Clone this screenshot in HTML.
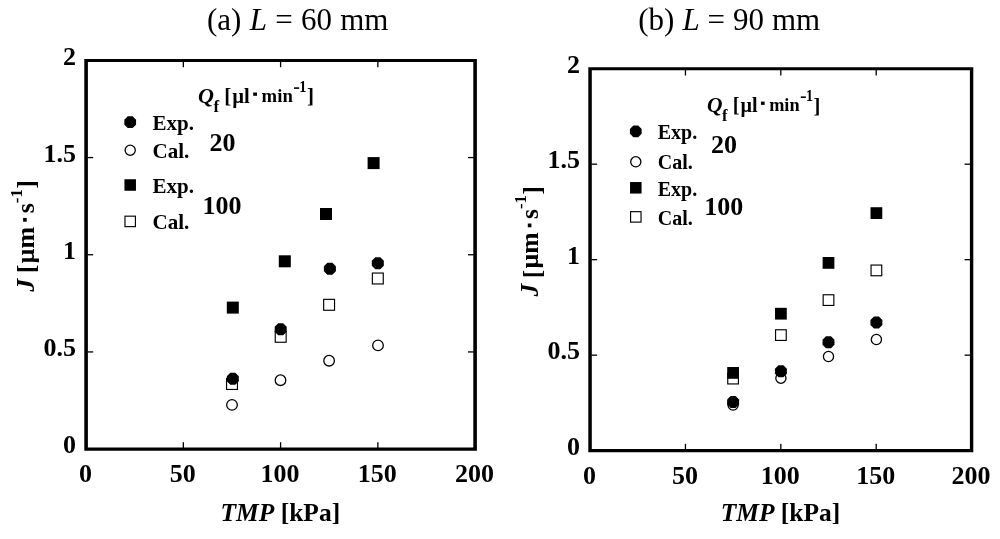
<!DOCTYPE html>
<html><head><meta charset="utf-8"><title>Permeate flux vs TMP</title>
<style>
html,body{margin:0;padding:0;background:#fff;}
body{width:1000px;height:539px;overflow:hidden;}
svg{display:block;will-change:transform;}
text{font-family:"Liberation Serif",serif;fill:#000;}
.tk{font-size:26px;font-weight:bold;}
.ax{font-size:25.5px;font-weight:bold;}
.lg{font-size:21px;font-weight:bold;}
.tt{font-size:31px;}
</style></head>
<body>
<svg width="1000" height="539" viewBox="0 0 1000 539">
<rect width="1000" height="539" fill="#fff"/>
<path fill="#000" fill-rule="evenodd" d="M84.3 58.9H476.9V450.7H84.3Z M87.9 61.9H473.3V447.5H87.9Z"/>
<rect x="182.70" y="442.20" width="1.3" height="5.8" fill="#000"/>
<rect x="182.70" y="61.40" width="1.3" height="5.8" fill="#000"/>
<rect y="351.28" x="87.40" height="1.3" width="5.8" fill="#000"/>
<rect y="351.28" x="468.00" height="1.3" width="5.8" fill="#000"/>
<rect x="279.95" y="442.20" width="1.3" height="5.8" fill="#000"/>
<rect x="279.95" y="61.40" width="1.3" height="5.8" fill="#000"/>
<rect y="254.10" x="87.40" height="1.3" width="5.8" fill="#000"/>
<rect y="254.10" x="468.00" height="1.3" width="5.8" fill="#000"/>
<rect x="377.20" y="442.20" width="1.3" height="5.8" fill="#000"/>
<rect x="377.20" y="61.40" width="1.3" height="5.8" fill="#000"/>
<rect y="156.92" x="87.40" height="1.3" width="5.8" fill="#000"/>
<rect y="156.92" x="468.00" height="1.3" width="5.8" fill="#000"/>
<text class="tk" x="85.60" y="482.40" text-anchor="middle">0</text>
<text class="tk" x="182.85" y="482.40" text-anchor="middle">50</text>
<text class="tk" x="280.10" y="482.40" text-anchor="middle">100</text>
<text class="tk" x="377.35" y="482.40" text-anchor="middle">150</text>
<text class="tk" x="474.60" y="482.40" text-anchor="middle">200</text>
<text class="tk" x="76.10" y="453.30" text-anchor="end">0</text>
<text class="tk" x="76.10" y="356.12" text-anchor="end">0.5</text>
<text class="tk" x="76.10" y="258.95" text-anchor="end">1</text>
<text class="tk" x="76.10" y="161.77" text-anchor="end">1.5</text>
<text class="tk" x="76.10" y="64.60" text-anchor="end">2</text>
<path fill="#000" fill-rule="evenodd" d="M588.3 67.2H973.3V452.2H588.3Z M591.8 70.2H969.9V449.1H591.8Z"/>
<rect x="684.79" y="443.80" width="1.3" height="5.8" fill="#000"/>
<rect x="684.79" y="69.70" width="1.3" height="5.8" fill="#000"/>
<rect y="354.51" x="591.30" height="1.3" width="5.8" fill="#000"/>
<rect y="354.51" x="964.60" height="1.3" width="5.8" fill="#000"/>
<rect x="780.17" y="443.80" width="1.3" height="5.8" fill="#000"/>
<rect x="780.17" y="69.70" width="1.3" height="5.8" fill="#000"/>
<rect y="259.02" x="591.30" height="1.3" width="5.8" fill="#000"/>
<rect y="259.02" x="964.60" height="1.3" width="5.8" fill="#000"/>
<rect x="875.56" y="443.80" width="1.3" height="5.8" fill="#000"/>
<rect x="875.56" y="69.70" width="1.3" height="5.8" fill="#000"/>
<rect y="163.54" x="591.30" height="1.3" width="5.8" fill="#000"/>
<rect y="163.54" x="964.60" height="1.3" width="5.8" fill="#000"/>
<text class="tk" x="589.55" y="483.90" text-anchor="middle">0</text>
<text class="tk" x="684.94" y="483.90" text-anchor="middle">50</text>
<text class="tk" x="780.32" y="483.90" text-anchor="middle">100</text>
<text class="tk" x="875.71" y="483.90" text-anchor="middle">150</text>
<text class="tk" x="971.10" y="483.90" text-anchor="middle">200</text>
<text class="tk" x="580.10" y="454.85" text-anchor="end">0</text>
<text class="tk" x="580.10" y="359.36" text-anchor="end">0.5</text>
<text class="tk" x="580.10" y="263.87" text-anchor="end">1</text>
<text class="tk" x="580.10" y="168.39" text-anchor="end">1.5</text>
<text class="tk" x="580.10" y="72.90" text-anchor="end">2</text>
<rect x="226.55" y="378.55" width="10.90" height="10.90" fill="#fff" stroke="#000" stroke-width="1.15"/>
<rect x="275.25" y="331.35" width="10.90" height="10.90" fill="#fff" stroke="#000" stroke-width="1.15"/>
<rect x="323.65" y="299.35" width="10.90" height="10.90" fill="#fff" stroke="#000" stroke-width="1.15"/>
<rect x="372.35" y="273.05" width="10.90" height="10.90" fill="#fff" stroke="#000" stroke-width="1.15"/>
<rect x="727.76" y="373.26" width="10.68" height="10.68" fill="#fff" stroke="#000" stroke-width="1.15"/>
<rect x="775.56" y="329.76" width="10.68" height="10.68" fill="#fff" stroke="#000" stroke-width="1.15"/>
<rect x="823.16" y="294.76" width="10.68" height="10.68" fill="#fff" stroke="#000" stroke-width="1.15"/>
<rect x="871.06" y="265.06" width="10.68" height="10.68" fill="#fff" stroke="#000" stroke-width="1.15"/>
<circle cx="232.0" cy="404.9" r="5.30" fill="#fff" stroke="#000" stroke-width="1.3"/>
<circle cx="280.5" cy="380.2" r="5.30" fill="#fff" stroke="#000" stroke-width="1.3"/>
<circle cx="329.1" cy="360.7" r="5.30" fill="#fff" stroke="#000" stroke-width="1.3"/>
<circle cx="378.0" cy="345.4" r="5.30" fill="#fff" stroke="#000" stroke-width="1.3"/>
<circle cx="733.1" cy="405.0" r="5.09" fill="#fff" stroke="#000" stroke-width="1.3"/>
<circle cx="780.9" cy="378.2" r="5.09" fill="#fff" stroke="#000" stroke-width="1.3"/>
<circle cx="828.5" cy="356.5" r="5.09" fill="#fff" stroke="#000" stroke-width="1.3"/>
<circle cx="876.4" cy="339.5" r="5.09" fill="#fff" stroke="#000" stroke-width="1.3"/>
<rect x="226.80" y="301.60" width="12.00" height="12.00" fill="#000"/>
<rect x="278.80" y="255.30" width="12.00" height="12.00" fill="#000"/>
<rect x="320.00" y="208.00" width="12.00" height="12.00" fill="#000"/>
<rect x="367.60" y="157.10" width="12.00" height="12.00" fill="#000"/>
<rect x="727.22" y="367.02" width="11.76" height="11.76" fill="#000"/>
<rect x="775.02" y="307.82" width="11.76" height="11.76" fill="#000"/>
<rect x="822.62" y="257.02" width="11.76" height="11.76" fill="#000"/>
<rect x="870.52" y="207.22" width="11.76" height="11.76" fill="#000"/>
<polygon points="230.31,372.79 235.29,372.79 238.81,376.31 238.81,381.29 235.29,384.81 230.31,384.81 226.79,381.29 226.79,376.31" fill="#000"/>
<polygon points="278.21,323.19 283.19,323.19 286.71,326.71 286.71,331.69 283.19,335.21 278.21,335.21 274.69,331.69 274.69,326.71" fill="#000"/>
<polygon points="327.41,262.79 332.39,262.79 335.91,266.31 335.91,271.29 332.39,274.81 327.41,274.81 323.89,271.29 323.89,266.31" fill="#000"/>
<polygon points="375.31,257.29 380.29,257.29 383.81,260.81 383.81,265.79 380.29,269.31 375.31,269.31 371.79,265.79 371.79,260.81" fill="#000"/>
<polygon points="730.62,396.12 735.58,396.12 739.08,399.62 739.08,404.58 735.58,408.08 730.62,408.08 727.12,404.58 727.12,399.62" fill="#000"/>
<polygon points="778.42,365.22 783.38,365.22 786.88,368.72 786.88,373.68 783.38,377.18 778.42,377.18 774.92,373.68 774.92,368.72" fill="#000"/>
<polygon points="826.02,336.32 830.98,336.32 834.48,339.82 834.48,344.78 830.98,348.28 826.02,348.28 822.52,344.78 822.52,339.82" fill="#000"/>
<polygon points="873.92,316.52 878.88,316.52 882.38,320.02 882.38,324.98 878.88,328.48 873.92,328.48 870.42,324.98 870.42,320.02" fill="#000"/>
<polygon points="127.77,116.34 132.63,116.34 136.06,119.77 136.06,124.63 132.63,128.06 127.77,128.06 124.34,124.63 124.34,119.77" fill="#000"/>
<circle cx="130.2" cy="150.2" r="5.09" fill="#fff" stroke="#000" stroke-width="1.3"/>
<rect x="124.44" y="179.24" width="11.52" height="11.52" fill="#000"/>
<rect x="124.97" y="216.17" width="10.46" height="10.46" fill="#fff" stroke="#000" stroke-width="1.15"/>
<text class="lg" style="font-size:21px" x="152.5" y="130.1">Exp.</text>
<text class="lg" style="font-size:21px" x="152.5" y="158.1">Cal.</text>
<text class="lg" style="font-size:21px" x="152.5" y="192.8">Exp.</text>
<text class="lg" style="font-size:21px" x="152.5" y="229.4">Cal.</text>
<text class="tk" x="209.5" y="151.2">20</text>
<text class="tk" x="202.4" y="214.0">100</text>
<g transform="translate(198.0,103.0) scale(1.0,1)">
<text transform="translate(0.00,0.00)" style="font-size:22px;font-weight:bold" font-style="italic">Q</text>
<text transform="translate(15.40,8.50)" style="font-size:17px;font-weight:bold">f</text>
<text transform="translate(26.30,0.00)" style="font-size:21px;font-weight:bold">[</text>
<text transform="translate(34.30,0.00)" style="font-size:20.5px;font-weight:bold">µl</text>
<rect x="55.20" y="-10.50" width="3.80" height="3.30" fill="#000"/>
<text transform="translate(63.60,-1.00) scale(0.96,1)" style="font-size:19.5px;font-weight:bold">min</text>
<rect x="96.00" y="-15.70" width="5.20" height="1.60" fill="#000"/>
<text transform="translate(101.35,-10.90) scale(0.9,1)" style="font-size:16px;font-weight:bold">1</text>
<text transform="translate(109.00,0.40)" style="font-size:21px;font-weight:bold">]</text>
</g>
<polygon points="633.37,125.54 638.23,125.54 641.66,128.97 641.66,133.83 638.23,137.26 633.37,137.26 629.94,133.83 629.94,128.97" fill="#000"/>
<circle cx="635.8" cy="161.8" r="5.09" fill="#fff" stroke="#000" stroke-width="1.3"/>
<rect x="630.04" y="182.04" width="11.52" height="11.52" fill="#000"/>
<rect x="630.57" y="211.67" width="10.46" height="10.46" fill="#fff" stroke="#000" stroke-width="1.15"/>
<text class="lg" style="font-size:20px" x="657.7" y="139.4">Exp.</text>
<text class="lg" style="font-size:20px" x="657.7" y="169.3">Cal.</text>
<text class="lg" style="font-size:20px" x="657.7" y="195.8">Exp.</text>
<text class="lg" style="font-size:20px" x="657.7" y="224.7">Cal.</text>
<text class="tk" x="711.0" y="152.8">20</text>
<text class="tk" x="704.2" y="214.7">100</text>
<g transform="translate(707.0,112.1) scale(0.977,1)">
<text transform="translate(0.00,0.00)" style="font-size:22px;font-weight:bold" font-style="italic">Q</text>
<text transform="translate(15.40,8.50)" style="font-size:17px;font-weight:bold">f</text>
<text transform="translate(26.30,0.00)" style="font-size:21px;font-weight:bold">[</text>
<text transform="translate(34.30,0.00)" style="font-size:20.5px;font-weight:bold">µl</text>
<rect x="55.20" y="-10.50" width="3.80" height="3.30" fill="#000"/>
<text transform="translate(63.60,-1.00) scale(0.96,1)" style="font-size:19.5px;font-weight:bold">min</text>
<rect x="96.00" y="-15.70" width="5.20" height="1.60" fill="#000"/>
<text transform="translate(101.35,-10.90) scale(0.9,1)" style="font-size:16px;font-weight:bold">1</text>
<text transform="translate(109.00,0.40)" style="font-size:21px;font-weight:bold">]</text>
</g>
<text class="tt" x="207.0" y="30" word-spacing="0.5">(a) <tspan font-style="italic">L</tspan> = 60 mm</text>
<text class="tt" x="638.3" y="30" word-spacing="0.2">(b) <tspan font-style="italic">L</tspan> = 90 mm</text>
<text class="ax" x="280.3" y="521.3" text-anchor="middle"><tspan font-style="italic">TMP</tspan> [kPa]</text>
<text class="ax" x="780.5" y="521.3" text-anchor="middle"><tspan font-style="italic">TMP</tspan> [kPa]</text>
<g transform="translate(34.2,291.8) rotate(-90) scale(1.0,1)"><text class="tk" font-style="italic" x="0" y="-0.6">J</text><text class="tk" x="18.5" y="1.0">[</text><text class="tk" x="28.3" y="-0.6">µm</text><rect x="70.1" y="-11.1" width="3.8" height="3.6" fill="#000"/><text class="tk" x="78.5" y="-0.6">s</text><text class="tk" x="88.6" y="-12.6" style="font-size:17px">-1</text><text class="tk" x="103.1" y="1.0">]</text></g>
<g transform="translate(539.8,296.4) rotate(-90) scale(0.986,1)"><text class="tk" font-style="italic" x="0" y="-1.5">J</text><text class="tk" x="18.5" y="1.0">[</text><text class="tk" x="28.3" y="-1.5">µm</text><rect x="70.1" y="-12.0" width="3.8" height="3.6" fill="#000"/><text class="tk" x="78.5" y="-1.5">s</text><text class="tk" x="88.6" y="-13.5" style="font-size:17px">-1</text><text class="tk" x="103.1" y="1.0">]</text></g>
</svg>
</body></html>
